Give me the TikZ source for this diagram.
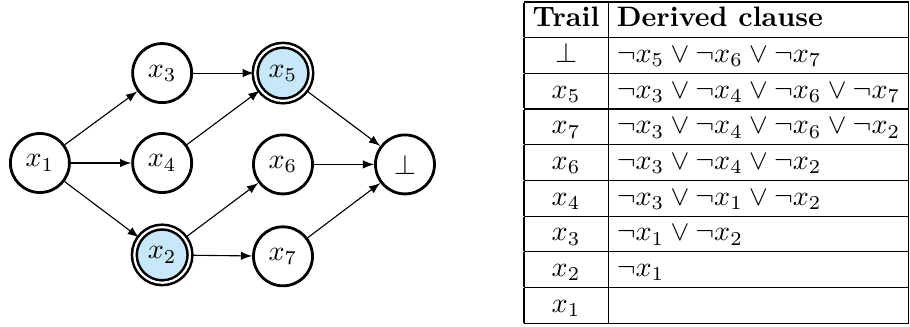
\documentclass[tikz,border=0pt]{standalone}
\usepackage{amssymb,amsfonts,amsmath}
\usetikzlibrary{arrows}
\definecolor{litblue}{RGB}{198,232,248}
\begin{document}
\begin{tikzpicture}[>=latex]
    \tikzstyle{var}=[circle, draw, line width=1pt, minimum size=21pt, inner sep=0pt]
    \tikzstyle{decided}=[var, fill=litblue, double, line width=0.9pt, double distance=0.8pt, minimum size=19.8pt]
    \tikzstyle{imp}=[->, thin]
    \useasboundingbox (0,0) rectangle (323.8pt,-116pt);
    % implication graph
    \node[var] (x1) at (14.2pt,-58pt) {$x_1$};
    \node[var] (x3) at (57.7pt,-26pt) {$x_3$};
    \node[var] (x4) at (57.7pt,-58pt) {$x_4$};
    \node[decided] (x2) at (57.7pt,-90.7pt) {$x_2$};
    \node[decided] (x5) at (100.7pt,-26pt) {$x_5$};
    \node[var] (x6) at (100.7pt,-58.5pt) {$x_6$};
    \node[var] (x7) at (100.7pt,-91.2pt) {$x_7$};
    \node[var] (bot) at (144.1pt,-58.5pt) {$\bot$};
    \draw[imp] (x1) -- (x3);
    \draw[imp] (x1) -- (x4);
    \draw[imp] (x1) -- (x2);
    \draw[imp] (x3) -- (x5);
    \draw[imp] (x4) -- (x5);
    \draw[imp] (x2) -- (x6);
    \draw[imp] (x2) -- (x7);
    \draw[imp] (x5) -- (bot);
    \draw[imp] (x6) -- (bot);
    \draw[imp] (x7) -- (bot);
    % trail
    \node[anchor=north east, inner sep=0pt] (trail) at (323.6pt,-0.3pt) {%
      \setlength{\tabcolsep}{3.1pt}\renewcommand{\arraystretch}{1.025}%
      \begin{tabular}{|c|l|}
        \hline
        \textbf{Trail} & \textbf{Derived clause} \\ \hline
        $\bot$ & $\neg x_5 \vee \neg x_6 \vee \neg x_7$ \\ \hline
        $x_5$ & $\neg x_3 \vee \neg x_4 \vee \neg x_6 \vee \neg x_7$ \\ \hline
        $x_7$ & $\neg x_3 \vee \neg x_4 \vee \neg x_6 \vee \neg x_2$ \\ \hline
        $x_6$ & $\neg x_3 \vee \neg x_4 \vee \neg x_2$ \\ \hline
        $x_4$ & $\neg x_3 \vee \neg x_1 \vee \neg x_2$ \\ \hline
        $x_3$ & $\neg x_1 \vee \neg x_2$ \\ \hline
        $x_2$ & $\neg x_1$ \\ \hline
        $x_1$ & \\ \hline
      \end{tabular}};
\end{tikzpicture}
\end{document}
